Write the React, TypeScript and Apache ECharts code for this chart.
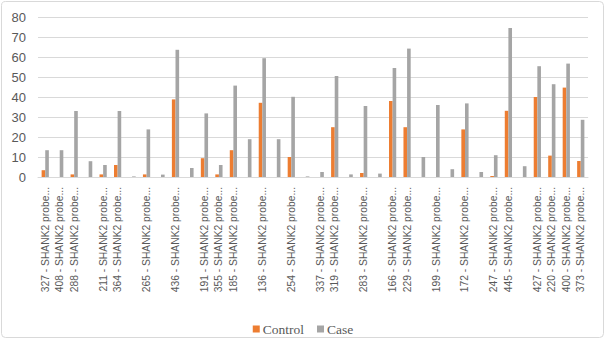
import React, { useEffect, useRef } from "react";
import * as echarts from "echarts";

const categories: string[] = [
  "327 - SHANK2 probe...", "408 - SHANK2 probe...", "288 - SHANK2 probe...", "",
  "211 - SHANK2 probe...", "364 - SHANK2 probe...", "", "265 - SHANK2 probe...", "",
  "436 - SHANK2 probe...", "", "191 - SHANK2 probe...", "355 - SHANK2 probe...",
  "185 - SHANK2 probe...", "", "136 - SHANK2 probe...", "", "254 - SHANK2 probe...", "",
  "337 - SHANK2 probe...", "319 - SHANK2 probe...", "", "283 - SHANK2 probe...", "",
  "166 - SHANK2 probe...", "229 - SHANK2 probe...", "", "199 - SHANK2 probe...", "",
  "172 - SHANK2 probe...", "", "247 - SHANK2 probe...", "445 - SHANK2 probe...", "",
  "427 - SHANK2 probe...", "220 - SHANK2 probe...", "400 - SHANK2 probe...", "373 - SHANK2 probe...",
];

const control: number[] = [
  3.4, 0, 1.3, 0, 1.3, 6, 0, 1.3, 0, 38.8,
  0, 9.4, 1.3, 13.4, 0, 37.1, 0, 10, 0, 0,
  24.9, 0, 2, 0, 38, 24.9, 0, 0, 0, 23.8,
  0, 0.5, 33.1, 0, 40, 10.7, 44.7, 8,
];

const caseVals: number[] = [
  13.4, 13.4, 33, 7.9, 6, 33, 0.3, 23.8, 1.2, 63.6,
  4.5, 31.8, 6, 45.7, 18.9, 59.4, 18.9, 40.1, 0.3, 2.5,
  50.5, 1.3, 35.5, 1.7, 54.5, 64.2, 10, 36, 3.9, 36.8,
  2.5, 10.9, 74.5, 5.4, 55.4, 46.4, 56.7, 28.6,
];

const yTicks = { min: 0, max: 80, interval: 10 };

export default function App() {
  const ref = useRef<HTMLDivElement>(null);
  useEffect(() => {
    if (!ref.current) return;
    const chart = echarts.init(ref.current, null, { renderer: "svg" });
    chart.setOption({
      animation: false,
      backgroundColor: "#ffffff",
      grid: { left: 38, right: 18, top: 17, bottom: 163, containLabel: false },
      graphic: [
        {
          type: "rect",
          shape: { x: 1.5, y: 1.5, width: 602, height: 336, r: 4 },
          style: { fill: "none", stroke: "#d9d9d9", lineWidth: 1 },
          silent: true,
        },
      ],
      legend: {
        top: 317,
        left: "center",
        itemWidth: 7,
        itemHeight: 7,
        itemGap: 13,
        icon: "rect",
        textStyle: {
          fontFamily: "Liberation Serif",
          fontSize: 13.5,
          color: "#595959",
          padding: [0, 0, 0, -2],
        },
        data: ["Control", "Case"],
      },
      xAxis: {
        type: "category",
        data: categories,
        axisLine: { lineStyle: { color: "#d9d9d9" } },
        axisTick: { show: false },
        axisLabel: {
          interval: 0,
          rotate: 90,
          margin: 10,
          fontFamily: "Liberation Sans",
          fontSize: 10.3,
          color: "#595959",
        },
      },
      yAxis: {
        type: "value",
        min: yTicks.min,
        max: yTicks.max,
        interval: yTicks.interval,
        axisLine: { show: false },
        axisTick: { show: false },
        splitLine: { lineStyle: { color: "#d9d9d9" } },
        axisLabel: {
          margin: 12,
          fontFamily: "Liberation Sans",
          fontSize: 13,
          color: "#595959",
        },
      },
      series: [
        {
          name: "Control",
          type: "bar",
          data: control,
          itemStyle: { color: "#ED7D31" },
          barGap: "0%",
          barCategoryGap: "50%",
        },
        {
          name: "Case",
          type: "bar",
          data: caseVals,
          itemStyle: { color: "#A5A5A5" },
          barGap: "0%",
          barCategoryGap: "50%",
        },
      ],
    });
    return () => chart.dispose();
  }, []);
  return (
    <div
      ref={ref}
      style={{ position: "fixed", left: 0, top: 0, width: 606, height: 340 }}
    />
  );
}
